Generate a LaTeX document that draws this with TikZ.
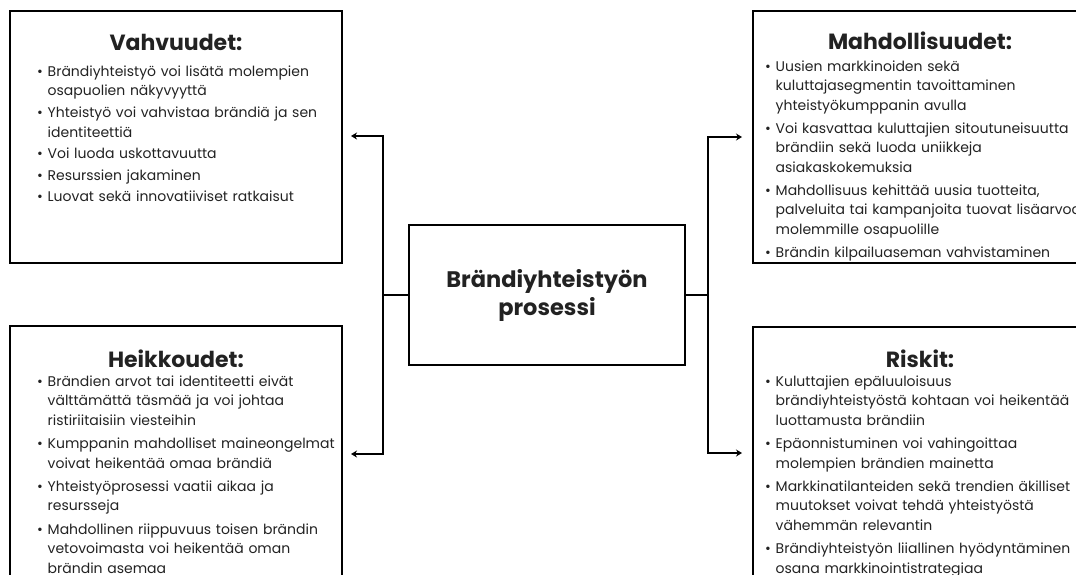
\documentclass[tikz,border=0pt]{standalone}
\usepackage{fontspec}
\setmainfont{Poppins}
\usetikzlibrary{arrows.meta,positioning}
\definecolor{inkgray}{HTML}{222222}
\newcommand{\litem}[1]{\par\hangindent=10.5pt\hangafter=1\noindent\makebox[10.5pt][l]{•}{\let\\\newline #1}\par}
\tikzset{
  swotbox/.style = {draw=black, line width=2.5pt, inner sep=0pt},
  swothead/.style = {font=\fontsize{22}{25}\selectfont\bfseries, text=inkgray, inner sep=0pt, anchor=base},
  swotlist/.style = {font=\fontsize{14}{19.6}\selectfont, text=inkgray, align=left,
                     text width=360pt, inner sep=0pt, anchor=north west},
  link/.style = {line width=1.6pt, line cap=rect},
  linkarr/.style = {link, -{Stealth[length=6pt,width=7pt]}}
}

\begin{document}
\begin{tikzpicture}[x=1pt,y=-1pt]
	\useasboundingbox (0,0) rectangle (1076,574);
	\node[swotbox, minimum width=332pt, minimum height=252pt] (vahv) at (176,137) {};
	\node[swotbox, minimum width=334pt, minimum height=252pt] (mahd) at (920,137) {};
	\node[swotbox, minimum width=332pt, minimum height=270pt] (heik) at (176,461) {};
	\node[swotbox, minimum width=334pt, minimum height=270pt] (risk) at (920,462) {};
	\node[swotbox, line width=2.8pt, minimum width=276pt, minimum height=140pt,
	      font=\fontsize{22.5}{28}\selectfont\bfseries, text=inkgray, align=center] (proc) at (547,295)
	      {Brändiyhteistyön\\prosessi};
	\node[swothead] (vahvt) at (176,50) {Vahvuudet:};
	\node[swothead] (mahdt) at (920,49) {Mahdollisuudet:};
	\node[swothead] (heikt) at (176,367) {Heikkoudet:};
	\node[swothead] (riskt) at (920,367) {Riskit:};
	\node[swotlist] (vahvl) at (37,54.5) {\setlength{\parskip}{2pt}%
		\litem{Brändiyhteistyö voi lisätä molempien\\osapuolien näkyvyyttä}
		\litem{Yhteistyö voi vahvistaa brändiä ja sen\\identiteettiä}
		\litem{Voi luoda uskottavuutta}
		\litem{Resurssien jakaminen}
		\litem{Luovat sekä innovatiiviset ratkaisut}};
	\node[swotlist] (mahdl) at (765,48) {\setlength{\parskip}{3.3pt}%
		\litem{Uusien markkinoiden sekä\\kuluttajasegmentin tavoittaminen\\yhteistyökumppanin avulla}
		\litem{Voi kasvattaa kuluttajien sitoutuneisuutta\\brändiin sekä luoda uniikkeja\\asiakaskokemuksia}
		\litem{Mahdollisuus kehittää uusia tuotteita,\\palveluita tai kampanjoita tuovat lisäarvoa\\molemmille osapuolille}
		\litem{Brändin kilpailuaseman vahvistaminen}};
	\node[swotlist] (heikl) at (37,363) {\setlength{\parskip}{3.5pt}%
		\litem{Brändien arvot tai identiteetti eivät\\välttämättä täsmää ja voi johtaa\\ristiriitaisiin viesteihin}
		\litem{Kumppanin mahdolliset maineongelmat\\voivat heikentää omaa brändiä}
		\litem{Yhteistyöprosessi vaatii aikaa ja\\resursseja}
		\litem{Mahdollinen riippuvuus toisen brändin\\vetovoimasta voi heikentää oman\\brändin asemaa}};
	\node[swotlist] (riskl) at (765,363) {\setlength{\parskip}{3.5pt}%
		\litem{Kuluttajien epäluuloisuus\\brändiyhteistyöstä kohtaan voi heikentää\\luottamusta brändiin}
		\litem{Epäonnistuminen voi vahingoittaa\\molempien brändien mainetta}
		\litem{Markkinatilanteiden sekä trendien äkilliset\\muutokset voivat tehdä yhteistyöstä\\vähemmän relevantin}
		\litem{Brändiyhteistyön liiallinen hyödyntäminen\\osana markkinointistrategiaa}};
	\coordinate (lj) at (383,295);
	\coordinate (rj) at (708,295);
	\coordinate (vahvin) at (351,136);
	\coordinate (heikin) at (351,454);
	\coordinate (mahdin) at (742,137);
	\coordinate (riskin) at (742,453);
	\draw[link] (proc.west) -- (lj);
	\draw[link] (proc.east) -- (rj);
	\draw[linkarr] (lj) |- (vahvin);
	\draw[linkarr] (lj) |- (heikin);
	\draw[linkarr] (rj) |- (mahdin);
	\draw[linkarr] (rj) |- (riskin);
\end{tikzpicture}
\end{document}
